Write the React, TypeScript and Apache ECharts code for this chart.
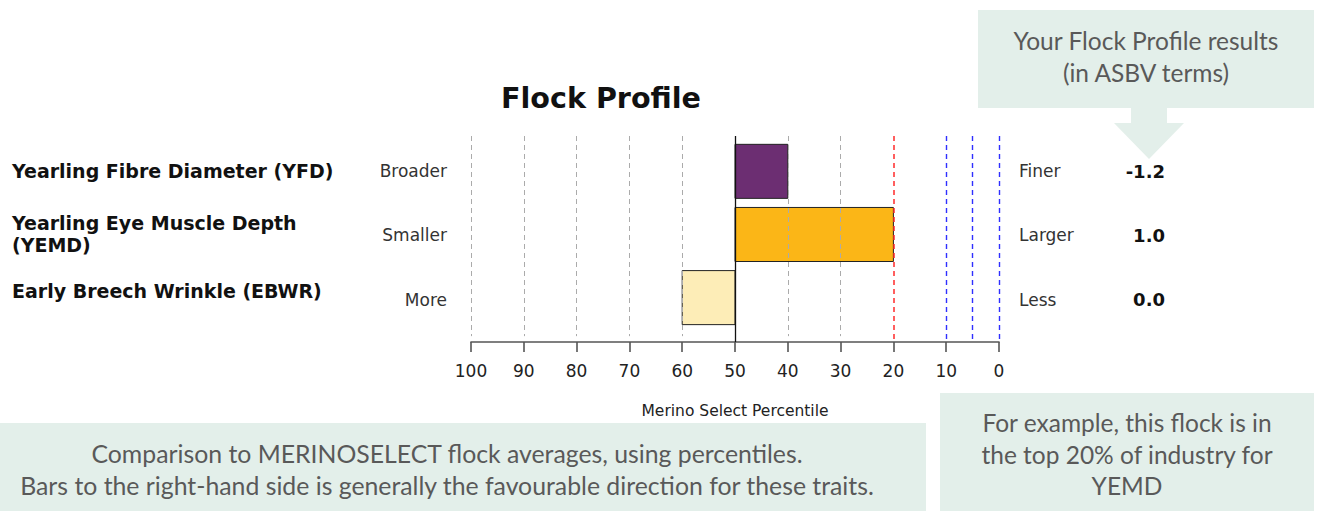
import React, { useEffect, useRef } from "react";
import * as echarts from "echarts";

// ---- data ----
const traits = [
  "Yearling Fibre Diameter (YFD)",
  "Yearling Eye Muscle Depth\n(YEMD)",
  "Early Breech Wrinkle (EBWR)",
];
const lowDirection = ["Broader", "Smaller", "More"];
const highDirection = ["Finer", "Larger", "Less"];
const percentiles = [40, 20, 60];
const asbvValues = ["-1.2", "1.0", "0.0"];
const baselinePercentile = 50;
const greyLines = [100, 90, 80, 70, 60, 40, 30];
const redLines = [20];
const blueLines = [10, 5, 0];
const barColors = ["#6C2E72", "#FBB617", "#FDEDB7"];

const topCalloutLines = ["Your Flock Profile results", "(in ASBV terms)"];
const bottomCalloutLines = [
  "Comparison to MERINOSELECT flock averages, using percentiles.",
  "Bars to the right-hand side is generally the favourable direction for these traits.",
];
const rightCalloutLines = ["For example, this flock is in", "the top 20% of industry for", "YEMD"];

// ---- layout constants ----
const FONT = "DejaVu Sans";
const CALLOUT_FONT = "Lato";
const CALLOUT_FILL = "#E3EFEA";
const CALLOUT_TEXT = "#595959";
const Y_MIN = -0.56;
const Y_MAX = 2.703;
const GREY_END = 2.61;
const leftNudge = [0, 0, -7];
const sideNudge = [0, 1, 2];

export default function App() {
  const ref = useRef<HTMLDivElement>(null);

  useEffect(() => {
    if (!ref.current) return;
    const chart = echarts.init(ref.current, null, { renderer: "svg" });

    const renderItem = (params: any, api: any) => {
      const start = api.value(0);
      const end = api.value(1);
      const idx = api.value(2);
      const p1 = api.coord([start, idx]);
      const p2 = api.coord([end, idx]);
      const h = api.size([0, 0.856])[1];
      const cy = p1[1];
      const i = params.dataIndex;
      return {
        type: "group",
        children: [
          {
            type: "rect",
            shape: {
              x: Math.min(p1[0], p2[0]),
              y: cy - h / 2,
              width: Math.abs(p2[0] - p1[0]),
              height: h,
            },
            style: { fill: barColors[i], stroke: "#222", lineWidth: 1 },
          },
          {
            type: "text",
            x: 12,
            y: cy + leftNudge[i],
            style: {
              text: traits[i],
              fill: "#111",
              fontFamily: FONT,
              fontWeight: "bold",
              fontSize: 19,
              lineHeight: 22,
              align: "left",
              verticalAlign: "middle",
            },
          },
          {
            type: "text",
            x: 447,
            y: cy + sideNudge[i],
            style: {
              text: lowDirection[i],
              fill: "#333",
              fontFamily: FONT,
              fontSize: 17,
              align: "right",
              verticalAlign: "middle",
            },
          },
          {
            type: "text",
            x: 1019,
            y: cy + sideNudge[i],
            style: {
              text: highDirection[i],
              fill: "#333",
              fontFamily: FONT,
              fontSize: 17,
              align: "left",
              verticalAlign: "middle",
            },
          },
          {
            type: "text",
            x: 1165,
            y: cy + sideNudge[i],
            style: {
              text: asbvValues[i],
              fill: "#111",
              fontFamily: FONT,
              fontWeight: "bold",
              fontSize: 18,
              align: "right",
              verticalAlign: "middle",
            },
          },
        ],
      };
    };

    const vline = (v: number, color: string, type: any, width: number, yEnd: number) => [
      { coord: [v, Y_MIN], lineStyle: { color, type, width, opacity: 1 } },
      { coord: [v, yEnd] },
    ];

    const markLineData = [
      ...greyLines.map((v) => vline(v, "#ABABAB", [5, 4], 1, GREY_END)),
      vline(baselinePercentile, "#111", "solid", 1.3, Y_MAX),
      ...redLines.map((v) => vline(v, "#FF2A2A", [5, 4], 1.5, Y_MAX)),
      ...blueLines.map((v) => vline(v, "#2F2FFF", [5, 4], 1.4, Y_MAX)),
    ];

    const option: any = {
      animation: false,
      title: {
        text: "Flock Profile",
        left: 596,
        textAlign: "center",
        top: 78,
        textStyle: { fontFamily: FONT, fontWeight: "bold", fontSize: 28.6, color: "#111" },
      },
      grid: { left: 471, right: 318, top: 136, height: 206 },
      xAxis: {
        type: "value",
        min: 0,
        max: 100,
        interval: 10,
        inverse: true,
        axisLine: { show: true, onZero: false, lineStyle: { color: "#555", width: 1.6 } },
        axisTick: { show: true, length: 10, lineStyle: { color: "#555", width: 1.6 } },
        axisLabel: { margin: 20, fontFamily: FONT, fontSize: 17, color: "#222" },
        splitLine: { show: false },
        name: "Merino Select Percentile",
        nameLocation: "middle",
        nameGap: 61,
        nameTextStyle: { fontFamily: FONT, fontSize: 15.5, color: "#222" },
      },
      yAxis: { type: "value", inverse: true, min: Y_MIN, max: Y_MAX, show: false },
      series: [
        {
          type: "custom",
          renderItem,
          clip: false,
          encode: { x: [0, 1], y: 2 },
          data: percentiles.map((p, i) => [baselinePercentile, p, i]),
          markLine: {
            silent: true,
            symbol: ["none", "none"],
            label: { show: false },
            emphasis: { disabled: true },
            data: markLineData,
          },
        },
      ],
      graphic: [
        { type: "rect", shape: { x: 978, y: 10, width: 336, height: 98 }, style: { fill: CALLOUT_FILL } },
        {
          type: "polygon",
          shape: {
            points: [
              [1131, 107],
              [1167, 107],
              [1167, 123],
              [1184, 123],
              [1149, 159],
              [1114, 123],
              [1131, 123],
            ],
          },
          style: { fill: CALLOUT_FILL },
        },
        {
          type: "text",
          x: 1146,
          y: 56,
          style: {
            text: topCalloutLines.join("\n"),
            fill: CALLOUT_TEXT,
            fontFamily: CALLOUT_FONT,
            fontSize: 24.5,
            lineHeight: 32,
            align: "center",
            verticalAlign: "middle",
          },
        },
        { type: "rect", shape: { x: 0, y: 423, width: 926, height: 88 }, style: { fill: CALLOUT_FILL } },
        {
          type: "text",
          x: 447,
          y: 469,
          style: {
            text: bottomCalloutLines.join("\n"),
            fill: CALLOUT_TEXT,
            fontFamily: CALLOUT_FONT,
            fontSize: 24.8,
            lineHeight: 32,
            align: "center",
            verticalAlign: "middle",
          },
        },
        { type: "rect", shape: { x: 940, y: 393, width: 374, height: 118 }, style: { fill: CALLOUT_FILL } },
        {
          type: "text",
          x: 1127,
          y: 454,
          style: {
            text: rightCalloutLines.join("\n"),
            fill: CALLOUT_TEXT,
            fontFamily: CALLOUT_FONT,
            fontSize: 24.5,
            lineHeight: 31.5,
            align: "center",
            verticalAlign: "middle",
          },
        },
      ],
    };

    chart.setOption(option);
    return () => chart.dispose();
  }, []);

  return (
    <div
      ref={ref}
      style={{ position: "fixed", left: 0, top: 0, width: 1317, height: 511, background: "#fff" }}
    />
  );
}
